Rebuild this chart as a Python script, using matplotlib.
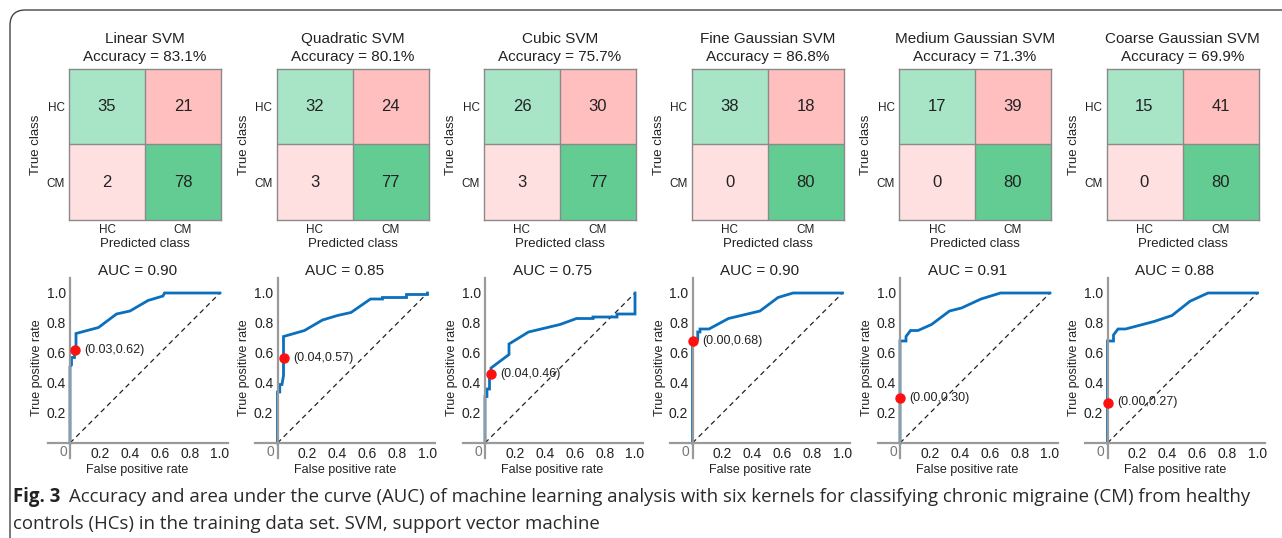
"""Six SVM kernels: confusion matrices on top, ROC curves below, caption at the foot."""

import matplotlib

matplotlib.use("Agg")
import matplotlib.pyplot as plt
import numpy as np
from matplotlib.patches import FancyBboxPatch

W, H = 1282, 538

models = ["Linear SVM", "Quadratic SVM", "Cubic SVM",
          "Fine Gaussian SVM", "Medium Gaussian SVM", "Coarse Gaussian SVM"]
accuracy = [83.1, 80.1, 75.7, 86.8, 71.3, 69.9]
classes = ["HC", "CM"]

# confusion counts, rows = true class, columns = predicted class
hc_as_hc = [35, 32, 26, 38, 17, 15]
hc_as_cm = [21, 24, 30, 18, 39, 41]
cm_as_hc = [2, 3, 3, 0, 0, 0]
cm_as_cm = [78, 77, 77, 80, 80, 80]

auc = [0.90, 0.85, 0.75, 0.90, 0.91, 0.88]
op_fpr = [0.03, 0.04, 0.04, 0.00, 0.00, 0.00]
op_tpr = [0.62, 0.57, 0.46, 0.68, 0.30, 0.27]

roc_fpr = [
    [0, 0, 0.01, 0.01, 0.03, 0.03, 0.04, 0.04, 0.19, 0.31, 0.40, 0.52, 0.62, 0.63, 1.0],
    [0, 0, 0.015, 0.015, 0.03, 0.04, 0.04, 0.18, 0.30, 0.40, 0.49, 0.62, 0.70, 0.70,
     0.86, 0.86, 1.0, 1.0],
    [0, 0, 0.013, 0.013, 0.03, 0.03, 0.04, 0.04, 0.16, 0.16, 0.29, 0.50, 0.61, 0.72,
     0.72, 0.88, 0.88, 1.0, 1.0],
    [0, 0, 0.035, 0.035, 0.05, 0.05, 0.11, 0.24, 0.45, 0.57, 0.67, 1.0],
    [0, 0, 0.04, 0.04, 0.055, 0.07, 0.12, 0.21, 0.33, 0.41, 0.54, 0.67, 1.0],
    [0, 0, 0.04, 0.04, 0.055, 0.07, 0.12, 0.31, 0.43, 0.55, 0.67, 1.0],
]
roc_tpr = [
    [0, 0.51, 0.52, 0.57, 0.57, 0.62, 0.65, 0.73, 0.77, 0.86, 0.88, 0.95, 0.98, 1.0, 1.0],
    [0, 0.34, 0.34, 0.39, 0.39, 0.45, 0.71, 0.75, 0.82, 0.85, 0.87, 0.96, 0.96, 0.97,
     0.97, 0.99, 0.99, 1.0],
    [0, 0.31, 0.31, 0.36, 0.36, 0.43, 0.46, 0.50, 0.59, 0.66, 0.74, 0.79, 0.83, 0.83,
     0.84, 0.84, 0.86, 0.86, 1.0],
    [0, 0.69, 0.69, 0.74, 0.74, 0.76, 0.76, 0.83, 0.88, 0.97, 1.0, 1.0],
    [0, 0.68, 0.68, 0.71, 0.73, 0.75, 0.75, 0.79, 0.88, 0.90, 0.96, 1.0, 1.0],
    [0, 0.68, 0.68, 0.72, 0.74, 0.76, 0.76, 0.81, 0.85, 0.945, 1.0, 1.0],
]

caption_head = "Fig. 3"
caption_line1 = ("Accuracy and area under the curve (AUC) of machine learning analysis with six "
                 "kernels for classifying chronic migraine (CM) from healthy")
caption_line2 = "controls (HCs) in the training data set. SVM, support vector machine"

# cell shades: correct HC, wrong HC->CM, wrong CM->HC, correct CM
cell_colors = np.array([
    [[0.66, 0.90, 0.78], [1.00, 0.75, 0.75]],
    [[1.00, 0.88, 0.88], [0.39, 0.80, 0.58]],
])

plt.rcParams["font.family"] = ["Liberation Sans", "DejaVu Sans"]
TXT = "#222222"
AX_GREY = "#9a9a9a"
ROC_BLUE = "#0a70bd"


def px_axes(fig, left, top, width, height):
    return fig.add_axes([left / W, 1 - (top + height) / H, width / W, height / H])


fig = plt.figure(figsize=(W / 100, H / 100), dpi=100)

# rounded frame that runs off the right and bottom edges
frame = FancyBboxPatch((10 / W, -20 / H), 1500 / W, 548 / H,
                       boxstyle="round,pad=0,rounding_size=0.012",
                       transform=fig.transFigure, fill=False,
                       edgecolor="#444444", linewidth=1.0, mutation_aspect=W / H)
fig.patches.append(frame)

step = 207.5
for i, name in enumerate(models):
    left = 69 + i * step

    # confusion matrix
    ax = px_axes(fig, left, 69, 152, 151)
    counts = np.array([[hc_as_hc[i], hc_as_cm[i]], [cm_as_hc[i], cm_as_cm[i]]])
    ax.imshow(cell_colors, aspect="auto")
    for r in range(2):
        for c in range(2):
            ax.text(c, r, f"{counts[r, c]}", ha="center", va="center",
                    fontsize=12, color=TXT)
    ax.axhline(0.5, color="#8a8a8a", lw=1.0)
    ax.axvline(0.5, color="#8a8a8a", lw=1.0)
    for s in ax.spines.values():
        s.set_color("#8a8a8a")
        s.set_linewidth(1.0)
    ax.set_xticks([0, 1], classes, fontsize=8.5, color=TXT)
    ax.set_yticks([0, 1], classes, fontsize=8.5, color=TXT)
    ax.tick_params(length=0, pad=3)
    ax.set_xlabel("Predicted class", fontsize=9.5, color=TXT, labelpad=1)
    ax.set_ylabel("True class", fontsize=9.5, color=TXT, labelpad=3)
    ax.set_title(f"{name}\nAccuracy = {accuracy[i]}%", fontsize=11,
                 color=TXT, pad=6, linespacing=1.3)

    # ROC curve with axes crossing at the origin
    ox = left + 1
    rx = px_axes(fig, ox - 22.5, 278, 180, 180)
    rx.set_xlim(-0.15, 1.05)
    rx.set_ylim(-0.1, 1.1)
    rx.plot([0, 1], [0, 1], ls=(0, (4, 3)), color="#222222", lw=0.9)
    rx.plot(roc_fpr[i], roc_tpr[i], color=ROC_BLUE, lw=2.0, solid_joinstyle="miter")
    rx.plot(op_fpr[i], op_tpr[i], "o", color="#ff1010", ms=6.5, zorder=5)
    rx.annotate(f"({op_fpr[i]:.2f},{op_tpr[i]:.2f})", xy=(op_fpr[i], op_tpr[i]),
                xytext=(7, 0), textcoords="offset points", ha="left", va="center",
                fontsize=9, color=TXT)
    for side in ("top", "right"):
        rx.spines[side].set_visible(False)
    rx.spines["left"].set_position(("data", 0))
    rx.spines["bottom"].set_position(("data", 0))
    for side in ("left", "bottom"):
        rx.spines[side].set_color(AX_GREY)
        rx.spines[side].set_linewidth(1.6)
    ticks = [0.2, 0.4, 0.6, 0.8, 1.0]
    rx.set_xticks(ticks, [f"{t:.1f}" for t in ticks])
    rx.set_yticks(ticks, [f"{t:.1f}" for t in ticks])
    rx.tick_params(length=0, labelsize=10, labelcolor=TXT, pad=3)
    rx.patch.set_visible(False)
    rx.text(-0.02, -0.015, "0", ha="right", va="top", fontsize=10, color="#777777")
    rx.set_xlabel("False positive rate", fontsize=9, color=TXT, labelpad=2)
    rx.set_ylabel("True positive rate", fontsize=9, color=TXT)
    rx.yaxis.set_label_coords(-0.025, 0.5)
    rx.set_title(f"AUC = {auc[i]:.2f}", fontsize=11, color=TXT, pad=2)

# caption, first line sized to run out to the right margin
cap_font = ["Open Sans", "DejaVu Sans"]
renderer = fig.canvas.get_renderer()
head = fig.text(13 / W, 1 - 497 / H, caption_head, fontsize=12, fontweight="bold",
                family=cap_font, color="#222222", va="center")
line1 = fig.text(0, 1 - 497 / H, caption_line1, fontsize=12, family=cap_font,
                 color="#2a2a2a", va="center")
line1_w = line1.get_window_extent(renderer).width
cap_size = 12 * (1240 - 68) / line1_w
head.set_fontsize(cap_size)
line1.set_fontsize(cap_size)
head_right = head.get_window_extent(renderer).x1
line1.set_x((head_right + 9) / W)
fig.text(13 / W, 1 - 524 / H, caption_line2, fontsize=cap_size, family=cap_font,
         color="#2a2a2a", va="center")

fig.savefig("out.png", dpi=100)
